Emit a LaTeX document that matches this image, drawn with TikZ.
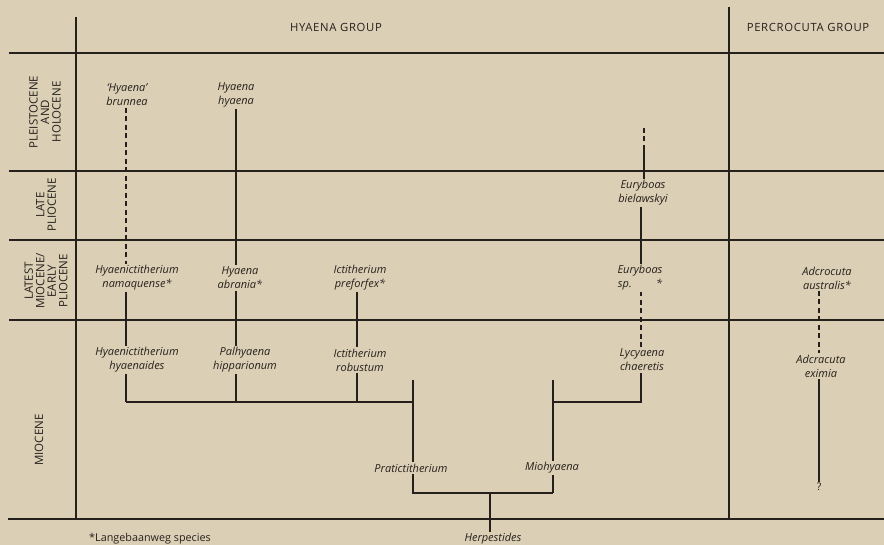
\documentclass[tikz,border=0pt]{standalone}
\usepackage{fontspec}
\setmainfont{Open Sans}
\definecolor{paper}{RGB}{219,207,181}
\definecolor{ink}{RGB}{38,32,28}
\begin{document}
\begin{tikzpicture}[x=1pt,y=-1pt,
  grid/.style={draw=ink,line width=1.4pt},
  tree/.style={draw=ink,line width=1.2pt},
  dashtree/.style={draw=ink,line width=1.2pt,dash pattern=on 5pt off 3.5pt},
  taxon/.style={font=\fontsize{11}{14}\selectfont\itshape,text=ink,align=center,inner sep=1.5pt},
  era/.style={font=\fontsize{11.5}{11.5}\selectfont,text=ink,align=center,rotate=90,inner sep=0pt},
  head/.style={font=\fontsize{11.3}{13}\selectfont\addfontfeature{LetterSpace=6},text=ink,inner sep=0pt},
  foot/.style={font=\fontsize{10.8}{12}\selectfont,text=ink,inner sep=0pt}]
\fill[paper] (0,0) rectangle (884,545);
\useasboundingbox (0,0) rectangle (884,545);
% grid
\draw[grid] (9,53) -- (884,53);
\draw[grid] (9,171) -- (884,171);
\draw[grid] (9,240) -- (884,240);
\draw[grid] (9,320) -- (884,320);
\draw[grid] (8,519) -- (884,519);
\draw[grid] (76,17) -- (76,519);
\draw[grid] (729,7) -- (729,519);
% headings
\node[head] (hg) at (336,27) {HYAENA GROUP};
\node[head] (pg) at (808,27) {PERCROCUTA GROUP};
\node[era] (e1) at (45,112) {PLEISTOCENE\\AND\\HOLOCENE};
\node[era] (e2) at (46,205) {LATE\\PLIOCENE};
\node[era] (e3) at (46,281) {LATEST\\MIOCENE/\\EARLY\\PLIOCENE};
\node[era] (e4) at (39,440) {MIOCENE};
% taxa
\node[taxon] (brunnea) at (127,95) {‘Hyaena’\\brunnea};
\node[taxon] (hhyaena) at (236,95) {Hyaena\\hyaena};
\node[taxon] (bielawskyi) at (643,193) {Euryboas\\bielawskyi};
\node[taxon] (namaquense) at (137,278) {Hyaenictitherium\\namaquense*};
\node[taxon] (abrania) at (240,278) {Hyaena\\abrania*};
\node[taxon] (preforfex) at (360,278) {Ictitherium\\preforfex*};
\node[taxon] (eurysp) at (640,278) {Euryboas\\sp.\hspace{2.2em}*};
\node[taxon] (australis) at (827,278) {Adcrocuta\\australis*};
\node[taxon] (hyaenaides) at (137,360) {Hyaenictitherium\\hyaenaides};
\node[taxon] (hipparionum) at (245,360) {Palhyaena\\hipparionum};
\node[taxon] (robustum) at (360,360) {Ictitherium\\robustum};
\node[taxon] (lycyaena) at (642,360) {Lycyaena\\chaeretis};
\node[taxon] (eximia) at (821,366) {Adcracuta\\eximia};
\node[taxon,font=\fontsize{10.5}{12}\selectfont\upshape,inner sep=1pt] (question) at (819,487) {?};
\node[taxon] (praticti) at (411,468) {Pratictitherium};
\node[taxon] (miohyaena) at (552,468) {Miohyaena};
\node[taxon] (herpestides) at (493,539) {Herpestides};
\node[foot] (foot) at (150,539) {*Langebaanweg species};
% column coordinates
\coordinate (cA) at (126,0);
\coordinate (cB) at (236,0);
\coordinate (cC) at (357,0);
\coordinate (cD) at (413,0);
\coordinate (cE) at (553,0);
\coordinate (cF) at (641,0);
\coordinate (cG) at (644,0);
\coordinate (cH) at (819,0);
\coordinate (cR) at (490,0);
\coordinate (brA) at (126,402);
\coordinate (brB) at (413,402);
\coordinate (brC) at (553,402);
\coordinate (brD) at (641,402);
\coordinate (rootL) at (413,493);
\coordinate (rootR) at (553,493);
\coordinate (topD) at (413,380);
\coordinate (topE) at (553,380);
\coordinate (bielS) at (644,150);
\coordinate (bielT) at (644,128);
\coordinate (herpN) at (490,532);
% Hyaenictitherium lineage
\draw[dashtree] (cA |- brunnea.south) -- (cA |- namaquense.north);
\draw[tree] (cA |- namaquense.south) -- (cA |- hyaenaides.north);
\draw[tree] (cA |- hyaenaides.south) -- (brA);
% Hyaena lineage
\draw[tree] (cB |- hhyaena.south) -- (cB |- abrania.north);
\draw[tree] (cB |- abrania.south) -- (cB |- hipparionum.north);
\draw[tree] (cB |- hipparionum.south) -- (cB |- brA);
% Ictitherium lineage
\draw[tree] (cC |- preforfex.south) -- (cC |- robustum.north);
\draw[tree] (cC |- robustum.south) -- (cC |- brA);
% brackets
\draw[tree] (brA) -- (brB);
\draw[tree] (topD) -- (cD |- praticti.north);
\draw[tree] (cD |- praticti.south) -- (rootL) -- (rootR);
\draw[tree] (topE) -- (cE |- miohyaena.north);
\draw[tree] (cE |- miohyaena.south) -- (rootR);
\draw[tree] (brC) -- (brD) -- (cF |- lycyaena.south);
\draw[tree] (cR |- rootL) -- (herpN);
% Euryboas lineage
\draw[dashtree] (cF |- lycyaena.north) -- (cF |- eurysp.south);
\draw[tree] (cF |- eurysp.north) -- (cF |- bielawskyi.south);
\draw[tree] (cG |- bielawskyi.north) -- (bielS);
\draw[dashtree] (bielS) -- (bielT);
% Adcrocuta lineage
\draw[dashtree] (cH |- australis.south) -- (cH |- eximia.north);
\draw[tree] (cH |- eximia.south) -- (cH |- question.north);
\end{tikzpicture}
\end{document}
